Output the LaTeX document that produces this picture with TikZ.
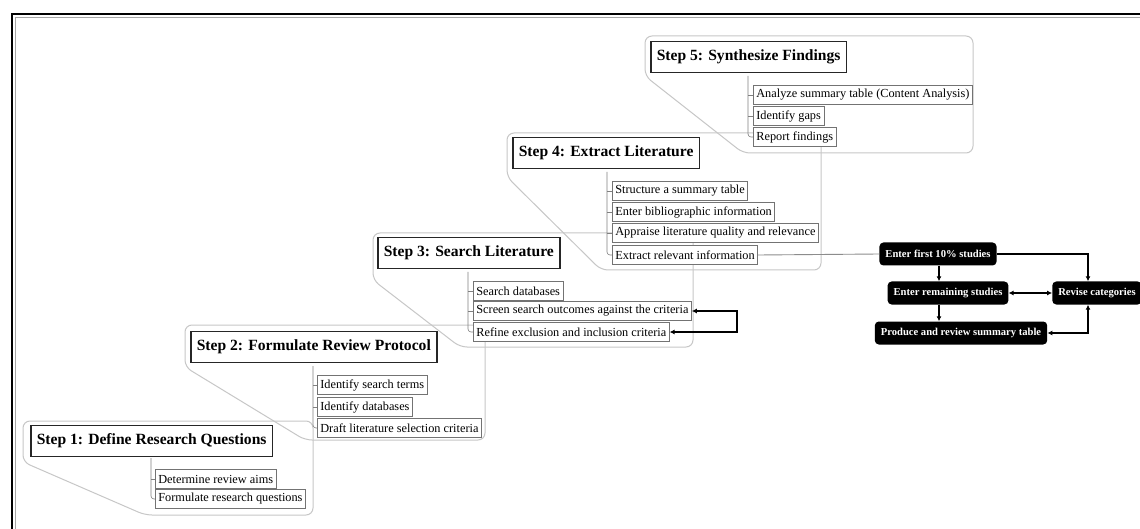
\documentclass[tikz,border=0pt]{standalone}
\usepackage{fontspec}
\setmainfont{Liberation Serif}
\usetikzlibrary{arrows.meta}
\begin{document}
\begin{tikzpicture}[x=1pt,y=-1pt,
  titlebox/.style={draw=black!85, line width=1.5pt, fill=white, anchor=west,
    font=\bfseries\fontsize{15.6}{17}\selectfont, inner xsep=6pt, inner ysep=2pt, minimum height=31pt},
  itembox/.style={draw=black!55, line width=0.7pt, fill=white, anchor=west,
    font=\fontsize{12.3}{14}\selectfont, inner xsep=3pt, inner ysep=1pt, minimum height=18.5pt},
  stepframe/.style={draw=black!22, line width=1pt, rounded corners=7pt},
  treeline/.style={draw=black!50, line width=0.6pt},
  flowbox/.style={fill=black, text=white, rounded corners=4pt,
    font=\bfseries\fontsize{10.6}{12}\selectfont, inner xsep=6pt, inner ysep=1pt, minimum height=23pt},
  flowarrow/.style={draw=black, line width=1.3pt, -{Latex[length=5pt,width=5pt]}},
  bothways/.style={draw=black, line width=1.3pt, {Latex[length=5pt,width=5pt]}-{Latex[length=5pt,width=5pt]}},
  link/.style={draw=black!45, line width=0.9pt}]
\useasboundingbox (0,0) rectangle (1140,529);
\fill[white] (0,0) rectangle (1140,529);

% page frame (top and left edges)
\draw[black, line width=2pt] (12,529) -- (12,14) -- (1140,14);
\draw[black!35, line width=1pt] (15.5,529) -- (15.5,17.5) -- (1140,17.5);

% step outlines
\draw[stepframe] (23,421) -- (313,421) -- (313,515) -- (145,515) -- (23,462) -- cycle;
\draw[stepframe] (185,325) -- (485,325) -- (485,440) -- (305,440) -- (185,367) -- cycle;
\draw[stepframe] (373,233) -- (693,233) -- (693,347) -- (460,347) -- (373,280) -- cycle;
\draw[stepframe] (507,133) -- (821,133) -- (821,270) -- (601,270) -- (507,177) -- cycle;
\draw[stepframe] (645,36) -- (973,36) -- (973,153) -- (743,153) -- (645,76) -- cycle;

% step 1
\node[titlebox] (s1) at (30,441) {Step 1: Define Research Questions};
\node[itembox] (s1a) at (155,479) {Determine review aims};
\node[itembox] (s1b) at (155,499) {Formulate research questions};
\coordinate (t1) at (151,458);
% step 2
\node[titlebox] (s2) at (190,347) {Step 2: Formulate Review Protocol};
\node[itembox] (s2a) at (317,385) {Identify search terms};
\node[itembox] (s2b) at (317,407) {Identify databases};
\node[itembox] (s2c) at (317,428) {Draft literature selection criteria};
\coordinate (t2) at (313,366);
% step 3
\node[titlebox] (s3) at (377,253) {Step 3: Search Literature};
\node[itembox] (s3a) at (473,291) {Search databases};
\node[itembox] (s3b) at (473,311) {Screen search outcomes against the criteria};
\node[itembox] (s3c) at (473,332) {Refine exclusion and inclusion criteria};
\coordinate (t3) at (468,272);
% step 4
\node[titlebox] (s4) at (512,153) {Step 4: Extract Literature};
\node[itembox] (s4a) at (612,191) {Structure a summary table};
\node[itembox] (s4b) at (612,212) {Enter bibliographic information};
\node[itembox] (s4c) at (612,233) {Appraise literature quality and relevance};
\node[itembox] (s4d) at (612,255) {Extract relevant information};
\coordinate (t4) at (607,172);
% step 5
\node[titlebox] (s5) at (650,57) {Step 5: Synthesize Findings};
\node[itembox] (s5a) at (753,95) {Analyze summary table (Content Analysis)};
\node[itembox] (s5b) at (753,116) {Identify gaps};
\node[itembox] (s5c) at (753,137) {Report findings};
\coordinate (t5) at (748,76);

% tree connectors from each title to its items
\draw[treeline, rounded corners=3pt] (t1) |- (s1b.west);
\draw[treeline] (t1 |- s1a.west) -- (s1a.west);
\draw[treeline, rounded corners=3pt] (t2) |- (s2c.west);
\foreach \n in {s2a,s2b} \draw[treeline] (t2 |- \n.west) -- (\n.west);
\draw[treeline, rounded corners=3pt] (t3) |- (s3c.west);
\foreach \n in {s3a,s3b} \draw[treeline] (t3 |- \n.west) -- (\n.west);
\draw[treeline, rounded corners=3pt] (t4) |- (s4d.west);
\foreach \n in {s4a,s4b,s4c} \draw[treeline] (t4 |- \n.west) -- (\n.west);
\draw[treeline, rounded corners=3pt] (t5) |- (s5c.west);
\foreach \n in {s5a,s5b} \draw[treeline] (t5 |- \n.west) -- (\n.west);

% screening feedback loop
\coordinate (loopx) at (737,0);
\draw[bothways] (s3b.east) -- (s3b.east -| loopx) |- (s3c.east);

% extraction workflow
\node[flowbox] (f1) at (938,254) {Enter first 10\% studies};
\node[flowbox] (f2) at (948,293) {Enter remaining studies};
\node[flowbox] (f3) at (1097,293) {Revise categories};
\node[flowbox] (f4) at (961,333) {Produce and review summary table};
\coordinate (colx) at (939,0);
\coordinate (revx) at (1088,0);

\draw[link] (s4d.east) -- (f1.west);
\draw[flowarrow] (f1.south -| colx) -- (f2.north -| colx);
\draw[flowarrow] (f2.south -| colx) -- (f4.north -| colx);
\draw[flowarrow] (f1.east) -| (f3.north -| revx);
\draw[bothways] (f2.east) -- (f3.west);
\draw[bothways] (f4.east) -| (f3.south -| revx);
\end{tikzpicture}
\end{document}
